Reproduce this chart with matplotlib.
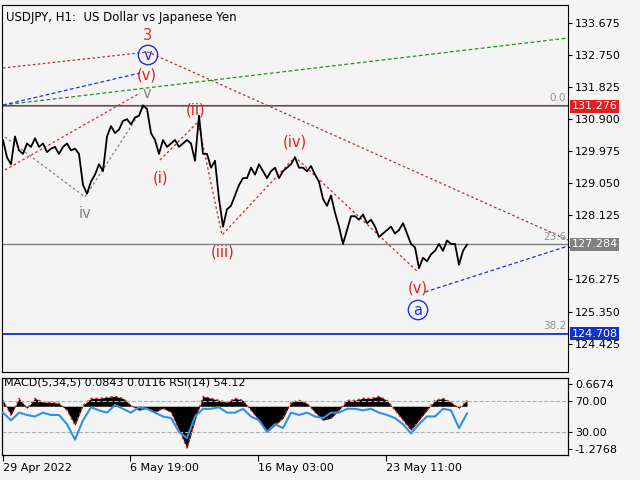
import numpy as np
import matplotlib
matplotlib.use("Agg")
import matplotlib.pyplot as plt

# ---------------- data ----------------
price = [130.3,129.8,129.6,130.4,130.0,129.9,130.2,130.1,130.35,130.1,130.2,129.95,130.05,130.1,129.9,130.1,
         130.2,130.0,130.05,129.9,129.0,128.75,129.1,129.3,129.6,129.4,130.4,130.7,130.5,130.6,130.85,130.9,
         130.75,130.95,131.0,131.3,131.2,130.5,130.3,129.9,130.3,130.1,130.2,130.3,130.1,130.2,130.3,130.2,
         129.7,131.0,129.9,129.9,129.5,129.7,128.6,127.8,128.3,128.4,128.7,129.0,129.2,129.2,129.5,129.3,
         129.6,129.4,129.2,129.4,129.5,129.2,129.4,129.5,129.6,129.8,129.5,129.5,129.4,129.55,129.3,129.1,
         128.6,128.4,128.7,128.2,127.8,127.3,127.7,128.1,128.1,128.0,128.15,127.9,128.0,127.8,127.5,127.6,
         127.7,127.8,127.6,127.7,127.9,127.6,127.3,127.2,126.6,126.9,126.8,127.0,127.1,127.3,127.1,127.4,
         127.3,127.3,126.7,127.1,127.28]
macd = [0.18,-0.27,0.24,-0.06,0.24,0.12,0.12,0.09,-0.12,-0.57,0.03,0.24,0.24,0.27,0.30,0.24,0.03,-0.12,
        -0.06,-0.18,-0.06,-0.18,-0.72,-1.26,-0.42,0.30,0.24,0.18,0.12,0.24,0.18,-0.12,-0.42,-0.78,-0.57,
        -0.36,0.12,0.18,0.09,-0.18,-0.42,-0.36,-0.12,0.18,0.18,0.24,0.24,0.30,0.18,-0.12,-0.42,-0.72,-0.42,
        -0.12,0.18,0.24,0.12,-0.06,0.18]
rsi = [55,45,55,52,50,55,52,52,40,20,45,62,58,55,65,60,55,62,60,55,50,48,30,22,50,60,60,62,55,55,60,50,
       45,30,40,35,55,52,55,50,48,55,55,60,60,58,60,55,52,48,40,28,40,50,50,60,58,35,54]
tick_labels = ["29 Apr 2022", "6 May 19:00", "16 May 03:00", "23 May 11:00"]
price_ticks = [133.675,132.750,131.825,130.900,129.975,129.050,128.125,127.200,126.275,125.350,124.425]
levels = [131.276, 127.284, 124.708]
level_names = ["0.0", "23.6", "38.2"]

def P(y):  # pixel row -> price
    return 134.34 - 0.02886 * y

bg = "#f4f4f4"
fig = plt.figure(figsize=(6.4, 4.8), dpi=100, facecolor=bg)
W, H = 640, 480
ax = fig.add_axes([2/W, 1-372/H, 566/W, 367/H], facecolor=bg)
ax2 = fig.add_axes([2/W, 1-455/H, 566/W, 77/H], facecolor=bg)

x = np.arange(len(price)) * 4 + 3
ax.plot(x, price, color="black", lw=1.3, zorder=5)
ax.set_xlim(2, 568)
ax.set_ylim(P(372), P(5))

# levels
ax.axhline(levels[0], color="#808080", lw=1.2)
ax.axhline(levels[0] + 0.02, color="#d02020", lw=0.8)
ax.axhline(levels[1], color="#808080", lw=1.0)
ax.axhline(levels[2], color="#1030d0", lw=1.3)
for lv, nm in zip(levels, level_names):
    ax.text(566, lv + 0.08, nm, ha="right", va="bottom", fontsize=7.5, color="#909090")

# wave lines
ax.plot([3, 148, 568], [P(68), P(52), P(240)], ls=(0, (2, 2)), color="#b03030", lw=0.9)
ax.plot([3, 568], [P(105), P(38)], ls=(0, (3, 2)), color="#209020", lw=0.9)
ax.plot([3, 140], [P(105), P(73)], ls=(0, (3, 2)), color="#2030e0", lw=0.9)
ax.plot([425, 568], [P(292), P(246)], ls=(0, (3, 2)), color="#2030e0", lw=0.9)
ax.plot([5, 140], [P(170), P(93)], ls=(0, (2, 2)), color="#e02020", lw=0.9)
ax.plot([160, 198, 222, 295, 418], [P(160), P(122), P(235), P(157), P(272)],
        ls=(0, (2, 2)), color="#e02020", lw=0.9)
ax.plot([5, 85, 145], [P(137), P(197), P(105)], ls=(0, (2, 2)), color="#808080", lw=0.9)

fs = 10.5
ax.text(147, P(35), "3", color="#d03020", fontsize=fs, ha="center", va="center")
ax.text(148, P(55), "v", color="#2030e0", fontsize=fs, ha="center", va="center",
        bbox=dict(boxstyle="circle,pad=0.15", fc="none", ec="#2030e0", lw=1))
ax.text(147, P(75), "(v)", color="#e02020", fontsize=fs, ha="center", va="center")
ax.text(147, P(93), "v", color="#808080", fontsize=fs, ha="center", va="center")
ax.text(85, P(213), "iv", color="#808080", fontsize=fs, ha="center", va="center")
ax.text(160, P(178), "(i)", color="#e02020", fontsize=fs, ha="center", va="center")
ax.text(196, P(110), "(ii)", color="#e02020", fontsize=fs, ha="center", va="center")
ax.text(223, P(252), "(iii)", color="#e02020", fontsize=fs, ha="center", va="center")
ax.text(295, P(142), "(iv)", color="#e02020", fontsize=fs, ha="center", va="center")
ax.text(418, P(288), "(v)", color="#e02020", fontsize=fs, ha="center", va="center")
ax.text(418, P(310), "a", color="#2030e0", fontsize=fs, ha="center", va="center",
        bbox=dict(boxstyle="circle,pad=0.15", fc="none", ec="#2030e0", lw=1))

ax.text(6, P(17), "USDJPY, H1:  US Dollar vs Japanese Yen", fontsize=8.5, va="center")

ax.yaxis.tick_right()
ax.set_yticks(price_ticks)
ax.set_yticklabels([("" if abs(v - 127.2) < 0.01 else f"{v:.3f}") for v in price_ticks])
ax.tick_params(axis="y", labelsize=8, length=3, pad=2)
ax.set_xticks([])
for lv, c in zip(levels, ["#e02020", "#808080", "#1030d0"]):
    ax.text(1.006, lv, f"{lv:.3f}", transform=ax.get_yaxis_transform(), fontsize=8, color="white",
            va="center", ha="left", bbox=dict(boxstyle="square,pad=0.15", fc=c, ec="none"))

# lower panel
xi = np.arange(len(rsi)) * 8 + 3
ax2.set_xlim(2, 568)
ax2.set_ylim(0, 100)
ax2.axhline(70, color="#b0b0b0", ls="--", lw=0.8)
ax2.axhline(30, color="#b0b0b0", ls="--", lw=0.8)
axm = ax2.twinx()
axm.set_ylim(-1.472, 0.853)
axm.fill_between(xi, 0, macd, color="black", lw=0)
axm.plot(xi, macd, color="#e02020", ls=(0, (2, 2)), lw=0.9)
axm.set_yticks([])
ax2.plot(xi, rsi, color="#3090e8", lw=1.5, zorder=6)
ax2.set_zorder(axm.get_zorder() + 1)
ax2.patch.set_visible(False)
axm.patch.set_facecolor(bg)
ax2.yaxis.tick_right()
ax2.set_yticks([92, 70, 30, 8.4])
ax2.set_yticklabels(["0.6674", "70.00", "30.00", "-1.2768"])
ax2.tick_params(axis="y", labelsize=8, length=3, pad=2)
ax2.set_xticks([3, 130, 258, 386])
ax2.set_xticklabels(tick_labels)
ax2.tick_params(axis="x", labelsize=8, length=4, pad=2)
for lab in ax2.get_xticklabels():
    lab.set_ha("left")
ax2.text(4, 94, "MACD(5,34,5) 0.0843 0.0116 RSI(14) 54.12", fontsize=8, va="center")

fig.savefig("out.png", dpi=100, facecolor=bg)
